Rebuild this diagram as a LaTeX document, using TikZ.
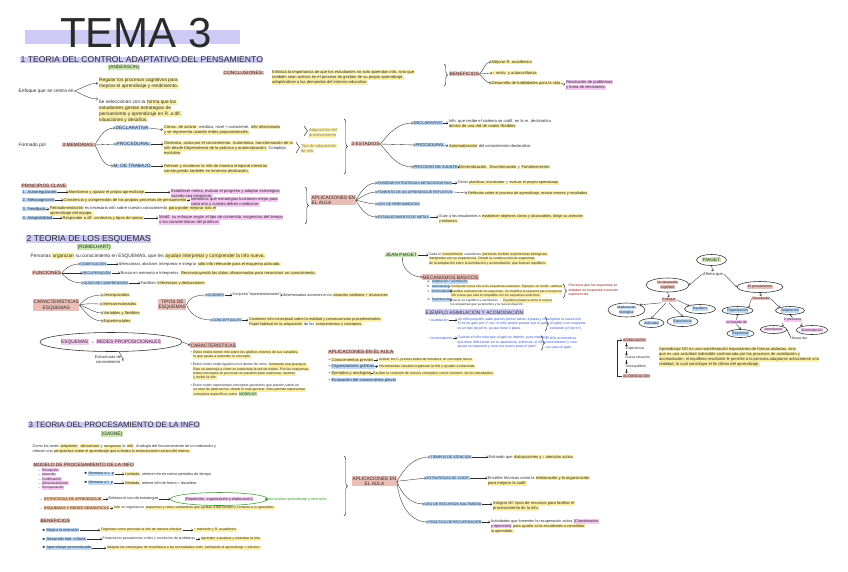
\documentclass[tikz,border=0pt]{standalone}
\usepackage{fontspec}
\setmainfont{Liberation Sans}
\usetikzlibrary{arrows.meta,decorations.pathreplacing,shapes.geometric}
\definecolor{hy}{HTML}{FCF0A8}
\definecolor{hb}{HTML}{BBD9F8}
\definecolor{hr}{HTML}{EABDB7}
\definecolor{hg}{HTML}{C6E8AC}
\definecolor{hv}{HTML}{CDCBF6}
\definecolor{hp}{HTML}{F6C8F3}
\definecolor{ho}{HTML}{F8CCA8}
\definecolor{ink}{HTML}{2B2B2B}
\definecolor{bink}{HTML}{3056C0}
\definecolor{rink}{HTML}{8E1B1B}
\definecolor{gink}{HTML}{3A9A2C}
\setlength{\fboxsep}{0.45pt}
\newcommand{\hY}[1]{\colorbox{hy}{#1}}
\newcommand{\hB}[1]{\colorbox{hb}{#1}}
\newcommand{\hR}[1]{\colorbox{hr}{#1}}
\newcommand{\hG}[1]{\colorbox{hg}{#1}}
\newcommand{\hV}[1]{\colorbox{hv}{#1}}
\newcommand{\hP}[1]{\colorbox{hp}{#1}}
\newcommand{\hO}[1]{\colorbox{ho}{#1}}
\newcommand{\fsZ}{\fontsize{3.2}{4.3}\selectfont}
\newcommand{\fsA}{\fontsize{3.5}{4.4}\selectfont}
\newcommand{\fsE}{\fontsize{3.8}{4.8}\selectfont}
\newcommand{\fsB}{\fontsize{4.1}{5.2}\selectfont}
\newcommand{\fsC}{\fontsize{4.8}{5.8}\selectfont}
\begin{document}
\begin{tikzpicture}[x=1pt,y=-1pt,
  every node/.style={inner sep=0.5pt, anchor=west, text=ink, font=\fsB, align=left},
  hd/.style={font=\fontsize{8.6}{9}\selectfont, fill=hv, inner ysep=0.2pt},
  au/.style={font=\fsC, fill=hg},
  arr/.style={draw=ink, line width=0.35pt, -{Straight Barb[length=1.4pt,width=2.6pt]}},
  brc/.style={draw=ink, line width=0.45pt, decorate, decoration={brace, amplitude=3.5pt}},
  oval/.style={draw=ink, ellipse, line width=0.55pt, inner sep=0pt, anchor=center, align=center},
  B/.style={fill=hb}, Y/.style={fill=hy}, R/.style={fill=hr}, G/.style={fill=hg},
  V/.style={fill=hv}, P/.style={fill=hp}, O/.style={fill=ho}]
\useasboundingbox (0,0) rectangle (848,571);
\fill[white] (0,0) rectangle (848,571);

% ---------- title
\fill[hv] (25,30) rectangle (240,44);
\node[anchor=base west, inner sep=0, font=\fontsize{42}{42}\selectfont] (ttl) at (60,47) {TEMA 3};

% ---------- section 1
\node[hd] (h1) at (20,60) {1 TEORIA DEL CONTROL ADAPTATIVO DEL PENSAMIENTO};
\node[au] (a1) at (108,67.5) {(ANDERSON)};
\node[font=\fsC] (enf) at (18,91) {Enfoque que se centra en};
\node[font=\fsC, anchor=north west] (reg) at (98,77) {\hY{Regular los procesos cognitivos para}\\\hY{mejorar el aprendizaje y rendimiento.}};
\node[font=\fsC, anchor=north west] (sel) at (98,99) {Se seleccionan con la \hY{forma que los}\\\hY{estudiantes gestan estrategias de}\\\hY{pensamiento y aprendizaje en R. a dif.}\\\hY{situaciones y desafíos.}};
\draw[arr] (enf.east) to[out=20,in=180] (reg.west);
\draw[arr] (enf.east) to[out=-20,in=180] (sel.north west);

\node[font=\fsC, R] (con) at (223,73) {CONCLUSIONES:};
\node[anchor=north west] (cond) at (271,69) {\hY{Enfatiza la importancia de que los estudiantes no solo aprendan info, sino que}\\\hY{también sean activos en el proceso de gestión de su propio aprendizaje,}\\\hY{adaptándose a las demandas del entorno educativo.}};
\draw[brc] (444,64) -- (444,86);
\node[font=\fsC, R] (ben) at (449,74) {BENEFICIOS};
\node[Y] (b1) at (491,62) {Mejorar R. académico};
\node[Y] (b2) at (492,73) {↑ motiv. y autoconfianza};
\node[Y] (b3) at (491,83) {Desarrollo de habilidades para la vida};
\node[anchor=north west] (b3d) at (565,79) {\hP{Resolución de problemas}\\\hP{y toma de decisiones.}};
\draw[arr] (ben.east) to[out=40,in=180] (b1.west);
\draw[arr] (ben.east) -- (b2.west);
\draw[arr] (ben.east) to[out=-40,in=180] (b3.west);
\draw[arr] (b3.east) -- (b3d.west);

\node[font=\fsC] (form) at (18,145) {Formado por};
\node[font=\fsC, R] (mem) at (62,145) {3 MEMORIAS:};
\node[font=\fsC, B] (m1) at (115,128) {DECLARATIVA};
\node[font=\fsC, B] (m2) at (116,144) {PROCEDURAL};
\node[font=\fsC, B] (m3) at (113,166) {M. DE TRABAJO};
\draw[arr] (mem.east) to[out=60,in=180] (m1.west);
\draw[arr] (mem.east) -- (m2.west);
\draw[arr] (mem.east) to[out=-60,in=180] (m3.west);
\node[anchor=north west] (m1d) at (163,124) {\hY{Conoc. de activar}, estática, nivel + consciente, \hY{info relacionada}\\\hY{y se representa usando redes proposicionales.}};
\node[anchor=north west] (m2d) at (163,140) {\hY{Dinámica, actúa por el conocimiento. Automática, transformación de la}\\\hY{info desde Dependencia de la práctica y automatización.} Complejo\\\hY{evolutivo}};
\node[anchor=north west] (m3d) at (163,163) {\hY{Retener y mantener la info de manera temporal mientras}\\\hY{construyendo también en tenemos dedicación.}};
\draw[arr] (m1.east) -- (m1d.west);
\draw[arr] (m2.east) -- (m2.east -| m2d.west);
\draw[arr] (m3.east) -- (m3.east -| m3d.west);
\draw[brc] (304,126) -- (304,136);
\node[anchor=north west, text=gray] (adq) at (308,127) {\hY{Adquisición del}\\\hY{procesamiento}};
\draw[brc] (296,142) -- (296,153);
\node[anchor=north west, text=gray] (tip) at (300,143) {\hY{Tipo de adquisición}\\\hY{de info}};

\draw[brc] (344,119) -- (344,174);
\node[font=\fsC, R] (est) at (351,144) {3 ESTADIOS};
\node[font=\fsB, B] (e1) at (413,123) {DECLARATIVO};
\node[font=\fsB, B] (e2) at (415,145) {PROCEDURAL};
\node[font=\fsB, B] (e3) at (413,167) {PROCESO DE AJUSTE};
\draw[arr] (est.east) to[out=50,in=180] (e1.west);
\draw[arr] (est.east) -- (e2.west);
\draw[arr] (est.east) to[out=-50,in=180] (e3.west);
\node[anchor=north west] (e1d) at (448,119) {Info. que recibe el sistema se codif. en la m. declarativa\\\hY{dentro de una red de nodos flexibles}};
\node (e2d) at (448,146) {\hY{Automatización} del conocimiento declarativo};
\node (e3d) at (458,167) {\hY{Generalización}, \hY{Discriminación} y \hY{Fortalecimiento}};
\draw[arr] (e1.east) -- (e1.east -| e1d.west);
\draw[arr] (e2.east) -- (e2d.west);
\draw[arr] (e3.east) -- (e3d.west);

% principios
\node[font=\fsC, R] (pc) at (21,186) {PRINCIPIOS CLAVE};
\node[B] (p1) at (22,192) {1. Autorregulación};
\node[Y] (p1a) at (68,192) {Monitorear y ajustar el propio aprendizaje};
\node[anchor=north west] (p1b) at (170,188.5) {\hP{Establecer metas, evaluar el progreso y adaptar estrategias}\\\hP{cuando sea necesario.}};
\node[B] (p2) at (22,200) {2. Metacognición};
\node[Y] (p2a) at (63,200) {Conciencia y comprensión de los propios procesos de pensamiento};
\node[anchor=north west] (p2b) at (190,196.5) {\hP{Identificar qué estrategias funcionan mejor para}\\\hP{cada uno y cuándo deben cambiarse.}};
\node[B] (p3) at (22,209) {3. Feedback};
\node[anchor=north west] (p3a) at (49,205.5) {\hY{Retroalimentación} es necesaria info sobre nuestro conocimiento \hY{para poder mejorar tras el}\\\hY{aprendizaje del equipo.}};
\node[B] (p4) at (22,218) {4. Adaptabilidad};
\node[Y] (p4a) at (62,218) {Responder a dif. contextos y tipos de tareas};
\node[anchor=north west] (p4b) at (158,214.5) {\hP{Modif. su enfoque según el tipo de contenido, exigencias del tiempo}\\\hP{o las características del profesor.}};
\draw[arr] (p1.east) -- (p1a.west);
\draw[arr] (p1a.east) -- (p1a.east -| p1b.west);
\draw[arr] (p2.east) -- (p2a.west);
\draw[arr] (p2a.east) -- (p2a.east -| p2b.west);
\draw[arr] (p3.east) -- (p3.east -| p3a.west);
\draw[arr] (p4.east) -- (p4a.west);
\draw[arr] (p4a.east) -- (p4a.east -| p4b.west);

\draw[brc] (305,187) -- (305,224);
\node[font=\fsC, R, anchor=north west] (apl1) at (311,195) {APLICACIONES EN\\EL AULA};
\node[font=\fsA, B] (ap1) at (377,183) {ENSEÑAR ESTRATEGIAS METACOGNITIVAS};
\node[font=\fsA, B] (ap2) at (377,192) {FOMENTO DE UN APRENDIZAJE REFLEXIVO};
\node[font=\fsA, B] (ap3) at (377,204) {USO DE HERRAMIENTAS};
\node[font=\fsA, B] (ap4) at (377,217) {ESTABLECIMIENTO DE METAS};
\draw[arr] (apl1.east) to[out=60,in=180] (ap1.west);
\draw[arr] (apl1.east) to[out=30,in=180] (ap2.west);
\draw[arr] (apl1.east) to[out=-10,in=180] (ap3.west);
\draw[arr] (apl1.east) to[out=-60,in=180] (ap4.west);
\node[font=\fsE] (ap1d) at (457,183) {Cómo \hY{planificar, monitorear} y \hY{evaluar el propio aprendizaje}};
\node[font=\fsE] (ap2d) at (467,193) {\hY{Reflexión sobre el proceso de aprendizaje, revisar errores y resultados}};
\node[font=\fsE, anchor=north west] (ap4d) at (438,213.5) {Guiar a los estudiantes a \hY{establecer objetivos claros y alcanzables, dirigir su atención}\\\hY{y esfuerzo.}};
\draw[arr] (ap1.east) -- (ap1d.west);
\draw[arr] (ap2.east) -- (ap2d.west);
\draw[arr] (ap4.east) -- (ap4.east -| ap4d.west);

% ---------- section 2
\node[hd] (h2) at (26,239) {2 TEORIA DE LOS ESQUEMAS};
\node[au] (a2) at (77,247) {(RUMELHART)};
\node[font=\fsC] (pers) at (30,256) {Personas \hY{organizan} su conocimiento en ESQUEMAS, que les \hY{ayudan interpretar y comprender la info nueva.}};
\node[font=\fsC, R] (fun) at (32,273) {FUNCIONES};
\node[font=\fsA, B] (f1) at (80,264) {CODIFICACIÓN};
\node[font=\fsA, B] (f2) at (82,273) {RECUPERACIÓN};
\node[font=\fsA, B] (f3) at (83,283) {GUÍAS DE COMPRENSIÓN};
\draw[arr] (fun.east) to[out=50,in=180] (f1.west);
\draw[arr] (fun.east) -- (f2.west);
\draw[arr] (fun.east) to[out=-50,in=180] (f3.west);
\node (f1d) at (118,264) {Seleccionar, abstraer, interpretar e integrar \hY{sólo info relevante para el esquema activado.}};
\node (f2d) at (120,273) {Busca en memoria e interpretar. \hY{Reconstruyendo los datos almacenados para reconstruir un conocimiento.}};
\node (f3d) at (140,283) {Facilitan \hY{inferencias y deducciones}};
\draw[arr] (f1.east) -- (f1d.west);
\draw[arr] (f2.east) -- (f2d.west);
\draw[arr] (f3.east) -- (f3d.west);

\node[font=\fsC, R, anchor=north west, align=center] (car) at (33,299) {CARACTERÍSTICAS\\ESQUEMAS};
\node[Y] (c1) at (103,295) {Jerarquizados};
\node[Y] (c2) at (102,304) {Interconexionados};
\node[Y] (c3) at (103,313) {Variables y flexibles};
\node[Y] (c4) at (103,321) {Experienciales};
\draw[arr] (car.east) to[out=50,in=180] (c1.west);
\draw[arr] (car.east) to[out=15,in=180] (c2.west);
\draw[arr] (car.east) to[out=-15,in=180] (c3.west);
\draw[arr] (car.east) to[out=-50,in=180] (c4.west);

\node[font=\fsC, R, anchor=north west, align=center] (tipos) at (158,299) {TIPOS DE\\ESQUEMAS};
\node[font=\fsA, B] (g1) at (207,295) {GUIONES};
\node[font=\fsA, B] (g2) at (212,320) {CONCEPTUALES};
\draw[arr] (tipos.east) to[out=70,in=180] (g1.west);
\draw[arr] (tipos.east) to[out=-70,in=180] (g2.west);
\node[font=\fsE] (g1d) at (232,295) {Conjunto ``representaciones''};
\node[font=\fsE] (g1e) at (282,295) {Determinadas acciones en la \hY{situación cotidiana + situaciones}};
\draw[arr] (g1.east) -- (g1d.west);
\draw[arr] (g1d.east) -- (g1e.west);
\node[font=\fsE, anchor=north west] (g2d) at (248,316.5) {\hY{Contienen info conceptual sobre la realidad y consecuencias procedimentales.}\\\hY{Papel habitual en la adquisición} de los \hY{conocimientos y conceptos.}};
\draw[arr] (g2.east) -- (g2.east -| g2d.west);

\node[oval, font=\fsC, minimum width=134, minimum height=19] (esqr) at (111,342) {\hP{ESQUEMAS} → \hP{REDES PROPOSICIONALES}};
\node[anchor=north, align=center] (estc) at (108,355) {Estructuras de\\conocimiento};
\draw[arr] (esqr.-50) to[out=-80,in=0] (estc.east);
\node[font=\fsC, R] (carc) at (190,345) {CARACTERÍSTICAS};
\draw[arr] (esqr.east) -- (carc.west);
\node[font=\fsA, anchor=north west] (cb1) at (190,349.5) {• \hY{Estos nodos tienen info sobre los gráficos mismos de sus variables,}\\\phantom{• }\hY{lo que ayuda a entender el concepto.}};
\node[font=\fsA, anchor=north west] (cb2) at (190,362) {• Estos nodos están ligados unos dentro de otros, \hY{formando una jerarquía.}\\\phantom{• }\hY{Esto se asemeja a cómo se estructura la red de nodos. Por los esquemas,}\\\phantom{• }\hY{estos conceptos se procesan en paralelo para relacionar, rastrear}\\\phantom{• }\hY{y recibir la info.}};
\node[font=\fsA, anchor=north west] (cb3) at (190,383) {• Estos nodos representan conceptos generales que pueden variar en\\\phantom{• }\hY{su nivel de abstracción, desde lo más general. Esto permite representar}\\\phantom{• }\hY{conceptos específicos como} \colorbox{hg}{MODELOS}};

\node[font=\fsC, R] (apl2) at (328,352) {APLICACIONES EN EL AULA};
\node (a21) at (328,360) {• \hY{Conocimientos previos}};
\node (a22) at (328,366.5) {• \hB{Organizadores gráficos}};
\node (a23) at (328,373.5) {• \hY{Ejemplos y analogías}};
\node (a24) at (328,380) {• \hB{Evaluación del conocimiento previo}};
\node[font=\fsA] (a21d) at (378,360) {\hY{Activar los C. previos antes de introducir un concepto nuevo}};
\node[font=\fsA] (a22d) at (378,366.5) {\hY{Herramientas visuales organizan la info y ayudan a relacionar}};
\node[font=\fsA] (a23d) at (372,373.5) {\hY{Facilitar la conexión de nuevos conceptos con el conocim. de los estudiantes.}};
\draw[arr] (a21.east) -- (a21d.west);
\draw[arr] (a22.east) -- (a22d.west);
\draw[arr] (a23.east) -- (a23d.west);

% piaget middle
\node[font=\fsC, G] (jp) at (385,255) {JEAN PIAGET};
\node[font=\fsA, anchor=north west] (jpd) at (428,251.5) {Cada el \hY{conocimiento} cuando las \hY{personas reciben experiencias biológicas,}\\\hY{interpretan con su experiencia. Desde la construcción de esquemas}\\\hY{de la adaptación entre la asimilación y acomodación, que buscan equilibrio.}};
\draw[arr] (jp.east) -- (jp.east -| jpd.west);
\node[font=\fsC, R] (mec) at (422,277) {MECANISMOS BÁSICOS};
\draw[arr] (jp.-60) to[out=-100,in=180] (mec.west);
\node[font=\fsZ] (mc1) at (427,282) {a. \hB{Adaptación + asimilación}};
\node[font=\fsZ] (mc2) at (427,286.5) {b. \hB{Asimilación}};
\node[font=\fsZ] (mc3) at (427,291) {c. \hB{Acomodación}};
\node[font=\fsZ] (mc4) at (427,300) {d. \hB{Equilibración}};
\node[font=\fsZ] (mc2d) at (450,286.5) {\hY{Incorporar nueva info a los esquemas existentes. Ejemplo, sin modif. cambios}};
\node[font=\fsZ, anchor=north west] (mc3d) at (450,289) {\hY{Cambiar radicalmente los esquemas. Se modifica el esquema para incorporar}\\\hY{info nueva que está incompatible con los esquemas anteriores.}};
\node[font=\fsZ, anchor=north west] (mc4d) at (450,298) {Buscar un equilibrio y asimilación → \hY{Equilibrio (balance entre lo nuevo)}\\los esquemas que ya tenemos y la nueva situación.};
\draw[arr] (mc2.east) -- (mc2d.west);
\draw[arr] (mc3.east) -- (mc3.east -| mc3d.west);
\draw[arr] (mc4.east) -- (mc4.east -| mc4d.west);
\draw[brc] (563,284) -- (563,298);
\node[font=\fsA, anchor=north west, text=rink] (mbr) at (568,283.5) {Procesos que los esquemas se\\adaptan en respuesta a nuevas\\experiencias.};

\node[font=\fsC, V] (ej) at (425,312) {EJEMPLO ASIMILACIÓN Y ACOMODACIÓN};
\node[font=\fsA, text=bink] (ej1) at (428,320) {• Asimilación};
\node[font=\fsA, text=bink, anchor=north west] (ej1d) at (457,317) {Un niño pequeño sabe que los perros tienen 4 patas y cola.\\Si ve un gato por 1ª vez, el niño podría pensar que el gato\\es un tipo de perro, ya que tiene 4 patas.};
\draw[arr] (ej1.east) -- (ej1.east -| ej1d.west);
\draw[brc] (545,317) -- (545,331);
\node[font=\fsA, text=bink, anchor=north west] (ej1r) at (549,317) {Aplicar la nueva info\\(el gato) a un esquema\\existente (el ``perro'').};
\node[font=\fsA, text=bink] (ej2) at (428,338) {• Acomodación};
\node[font=\fsA, text=bink, anchor=north west] (ej2d) at (457,335.5) {Cuando el niño nota que el gato es distinto, pues maúlla y\\que tiene diferencias en su apariencia, entonces, el niño\\ajusta su esquema y crea uno nuevo para el ``gato''.};
\draw[arr] (ej2.east) -- (ej2.east -| ej2d.west);
\draw[brc] (541,336) -- (541,350);
\node[font=\fsA, text=bink, anchor=north west] (ej2r) at (545,336) {El niño acomoda su\\conocimiento y crea\\uno para el gato.};

% piaget tree
\node[oval, font=\fsC, minimum width=30, minimum height=11] (pia) at (711.5,260) {\hG{PIAGET}};
\node[anchor=center] (afi) at (713,274) {Afirma que};
\node[oval, font=\fsA, minimum width=43, minimum height=14] (dcog) at (667.5,285) {\hR{Un desarrollo}\\\hR{cognitivo}};
\node[oval, font=\fsA, minimum width=46, minimum height=11] (pens) at (760,287) {\hR{El pensamiento}};
\draw[arr] (pia.south) -- (afi.north);
\draw[arr] (afi.west) -- (dcog.east);
\draw[arr] (afi.east) -- (pens.west);
\node[anchor=center, font=\fsA] (enf2) at (669,300) {\hR{Enfoque}};
\draw[arr] (dcog.south) -- (enf2.north);
\node[oval, font=\fsA, minimum width=37, minimum height=14] (mad) at (626.5,310) {\hB{Maduración}\\\hB{biológica}};
\node[oval, font=\fsA, minimum width=25, minimum height=9] (act) at (651.5,323) {\hB{Actividad}};
\node[oval, font=\fsA, minimum width=31, minimum height=10] (expe) at (682.5,321.5) {\hB{Experiencia}};
\node[oval, font=\fsA, minimum width=31, minimum height=9] (equ) at (700,309) {\hB{Equilibrio}};
\draw[arr] (enf2.south west) -- (mad.north east);
\draw[arr] (enf2.south) ++(-3,0) -- (act.north);
\draw[arr] (enf2.south) -- (expe.north);
\draw[arr] (enf2.east) -- (equ.north west);
\node[anchor=center, font=\fsA] (res) at (761,298.5) {\hR{Resulta de}};
\draw[arr] (pens.south) -- (res.north);
\node[oval, font=\fsA, minimum width=31, minimum height=8] (org) at (737.5,310.5) {\hB{Organización}};
\node[oval, font=\fsA, minimum width=29, minimum height=8] (ada) at (790,310.5) {\hB{Adaptación}};
\draw[arr] (res.west) -- (org.north east);
\draw[arr] (res.east) -- (ada.north west);
\node[anchor=center, font=\fsA] (bas) at (736.5,322) {\hP{es basado de}};
\node[oval, font=\fsA, minimum width=27, minimum height=8] (esqs) at (740.5,333.5) {\hB{Esquemas}};
\draw (org.south) -- (bas.north);
\draw[arr] (bas.south) -- (esqs.north);
\node[anchor=center, font=\fsA] (dos) at (792.5,320) {\hP{2 procesos}};
\draw (ada.south) -- (dos.north);
\node[oval, font=\fsA, minimum width=26, minimum height=8] (asi) at (773.5,329.5) {\hP{Asimilación}};
\node[oval, font=\fsA, minimum width=31, minimum height=9] (aco) at (812,330) {\hP{Acomodación}};
\draw[arr] (dos.south west) -- (asi.north east);
\draw[arr] (dos.south east) -- (aco.north west);
\node[anchor=center, font=\fsA] (has) at (799.5,338.5) {Hasta dar};
\draw (asi.east) -- (has.west);

% cycle
\node[font=\fsA] (cA) at (622,340) {\hR{ASIMILACIÓN}};
\node[font=\fsA] (cE) at (625,349) {Experiencia};
\node[font=\fsA] (cN) at (625,357.5) {nueva situación};
\node[font=\fsA] (cD) at (625,366.5) {Desequilibrio};
\node[font=\fsA] (cC) at (622,376) {\hR{ACOMODACIÓN}};
\draw[arr] (cA.south) ++(-8,0) -- ([xshift=-8pt]cE.north -| cA.south);
\draw[arr] ([xshift=-8pt]cE.south -| cA.south) -- ([xshift=-8pt]cN.north -| cA.south);
\draw[arr] ([xshift=-8pt]cN.south -| cA.south) -- ([xshift=-8pt]cD.north -| cA.south);
\draw[arr] ([xshift=-8pt]cD.south -| cA.south) -- ([xshift=-8pt]cC.north -| cA.south);
\draw[arr] (cC.west) -- ++(-5,0) |- (cA.west);
\node[font=\fsB, anchor=north west] (apr) at (658,346) {\hY{Aprendizaje NO es una manifestación espontánea de formas aisladas, sino}\\\hY{que es una actividad indivisible conformada por los procesos de asimilación y}\\\hY{acomodación, el equilibrio resultante le permite a la persona adaptarse activamente a la}\\\hY{realidad, lo cual constituye el fin último del aprendizaje.}};

% ---------- section 3
\node[hd, font=\fontsize{7.9}{8.5}\selectfont] (h3) at (28,425) {3 TEORIA DEL PROCESAMIENTO DE LA INFO};
\node[au] (a3) at (101,434) {(GAGNÉ)};
\node[font=\fsE, anchor=north west] (com) at (32,443.5) {Como los seres \hY{adquieren}, \hY{almacenan} y \hY{recuperan} la \hY{info}. Analogía del funcionamiento de un ordenador y\\ofrecen una \hY{perspectiva sobre el aprendizaje que enfatiza la estructuración activa del mismo.}};
\node[font=\fsC, R] (mod) at (33,465) {MODELO DE PROCESAMIENTO DE LA INFO};
\node[font=\fsA, anchor=north west] (ml) at (38,467.5) {– \hP{Recepción}\\– \hP{Atención}\\– \hP{Codificación}\\– \hP{Almacenamiento}\\– \hP{Recuperación}};
\node[font=\fsE] (mcp) at (84,474) {■ \hB{Memoria a c. p}};
\node[font=\fsE] (mlp) at (84,483) {■ \hB{Memoria a l. p}};
\node[font=\fsE] (mcpd) at (124,474) {\hY{Limitada}, retiene info en cortos periodos de tiempo};
\node[font=\fsE] (mlpd) at (124,483) {\hY{Ilimitada}, retiene info de forma + duradera};
\draw[arr] (mcp.east) -- (mcpd.west);
\draw[arr] (mlp.east) -- (mlpd.west);
\node[font=\fsE] (ea) at (38,499) {→ \hO{ESTRATEGIA DE APRENDIZAJE}};
\node[font=\fsE] (ead) at (108,499) {Enfatiza el uso de estrategias};
\node[oval, font=\fsE, draw=gink, minimum width=88, minimum height=13] (eov) at (219,499) {\hP{(Repetición, organización y elaboración)}};
\node[font=\fsE, text=gink] (eog) at (265,499) {para facilitar aprendizaje y retención};
\draw[arr] (ea.east) -- (ead.west);
\draw[arr] (ead.east) -- (eov.west);
\draw[arr, draw=gink] (eov.east) -- (eog.west);
\node[font=\fsE] (er) at (38,508) {→ \hO{ESQUEMAS Y REDES SEMÁNTICAS}};
\node[font=\fsA] (erd) at (113,508) {\hY{Info} se organiza en \hY{esquemas y redes semánticas que ayudan a dar sentido y contexto a lo aprendido.}};
\draw[arr] (er.east) -- (erd.west);
\node[font=\fsC, R] (ben3) at (40,521) {BENEFICIOS};
\node[font=\fsE] (bn1) at (42,530) {■ \hB{Mejora la retención}};
\node[font=\fsE] (bn2) at (42,539) {■ \hB{Desarrollo hab. críticas}};
\node[font=\fsE] (bn3) at (42,548) {■ \hB{Aprendizaje personalizado}};
\node[font=\fsA] (bn1d) at (100,530) {\hY{Organizar como procesar la info de manera efectiva}};
\node[font=\fsA] (bn1e) at (193,530) {\hY{↑ retención y R. académico}};
\node[font=\fsA] (bn2d) at (102,539) {Fomenta los pensamiento crítico y resolución de problemas};
\node[font=\fsA] (bn2e) at (200,539) {\hY{Aprender a analizar y sintetizar la info.}};
\node[font=\fsA] (bn3d) at (106,548) {\hY{Adaptar las estrategias de enseñanza a las necesidades indiv. facilitando el aprendizaje + efectivo.}};
\draw[arr] (bn1.east) -- (bn1d.west);
\draw[arr] (bn1d.east) -- (bn1e.west);
\draw[arr] (bn2.east) -- (bn2d.west);
\draw[arr] (bn2d.east) -- (bn2e.west);
\draw[arr] (bn3.east) -- (bn3d.west);

\draw[brc] (344,456) -- (344,516);
\node[font=\fsC, R, anchor=north west, align=center] (apl3) at (352,476) {APLICACIONES EN\\EL AULA};
\node[font=\fsA, B] (t1) at (430,457) {TIEMPOS DE ATENCIÓN};
\node[font=\fsA, B] (t2) at (426,478) {ESTRATEGIAS DE CODIF.};
\node[font=\fsA, B] (t3) at (424,504) {USO DE RECURSOS MULTIMEDIA};
\node[font=\fsA, B] (t4) at (428,522) {PRÁCTICA DE RECUPERACIÓN};
\draw[arr] (apl3.east) to[out=60,in=180] (t1.west);
\draw[arr] (apl3.east) -- (t2.west);
\draw[arr] (apl3.east) to[out=-70,in=180] (t3.west);
\draw[arr] (apl3.east) to[out=-85,in=180] (t4.west);
\node (t1d) at (488,457) {Evitando que \hY{distracciones y ↑ atención activa}};
\node[anchor=north west] (t2d) at (487,475) {Enseñar técnicas como la \hY{elaboración y la organización}\\\hY{para mejorar la codif.}};
\node[anchor=north west] (t3d) at (492,500.5) {\hY{Integrar dif. tipos de recursos para facilitar el}\\\hY{procesamiento de la info.}};
\node[font=\fsE, anchor=north west] (t4d) at (490,518.5) {Actividades que fomenten la recuperación activa \hP{(Cuestionarios}\\\hP{y ejercicios)} \hY{para ayudar a los estudiantes a consolidar}\\\hY{lo aprendido.}};
\draw[arr] (t1.east) -- (t1d.west);
\draw[arr] (t2.east) -- (t2.east -| t2d.west);
\draw[arr] (t3.east) -- (t3.east -| t3d.west);
\draw[arr] (t4.east) -- (t4.east -| t4d.west);
\end{tikzpicture}
\end{document}
